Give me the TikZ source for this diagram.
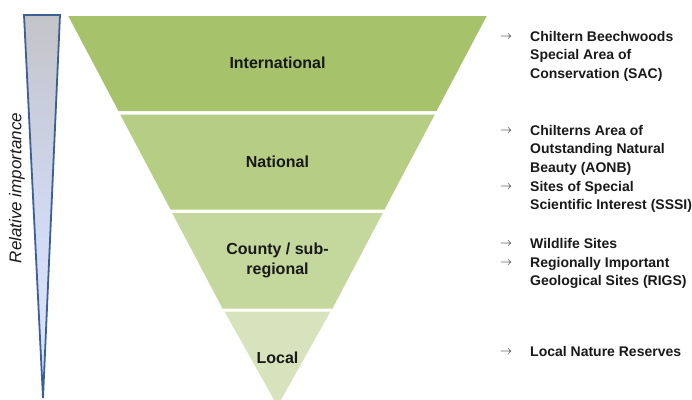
\documentclass[tikz,border=0pt]{standalone}
\usepackage{fontspec}
\setmainfont{Liberation Sans}
\usetikzlibrary{calc}
\definecolor{bandA}{RGB}{166,194,106}
\definecolor{bandB}{RGB}{182,206,132}
\definecolor{bandC}{RGB}{196,215,156}
\definecolor{bandD}{RGB}{214,227,188}
\definecolor{wedgeline}{RGB}{60,96,150}
\definecolor{wedgetop}{RGB}{196,196,200}
\definecolor{wedgemid}{RGB}{208,216,240}
\definecolor{wedgebot}{RGB}{220,232,255}
\definecolor{txt}{RGB}{25,25,25}
\tikzset{
  band/.style={draw=none},
  bandlabel/.style={font=\bfseries\fontsize{16}{20}\selectfont, text=txt, align=center},
  item/.style={font=\bfseries\fontsize{14}{18.5}\selectfont, text=txt, anchor=north west, align=left, inner sep=0pt},
  arrowmark/.style={font=\fontsize{13}{15}\selectfont, text=txt, inner sep=0pt},
}
\begin{document}
\begin{tikzpicture}[x=1pt,y=-1pt]
\useasboundingbox (0,0) rectangle (692,399);
\begin{scope}
\clip (0,0) rectangle (692,399);
% wedge
\shade[top color=wedgetop, bottom color=wedgebot, middle color=wedgemid] (24,15) -- (60,15) -- (43,398) -- cycle;
\draw[wedgeline, line width=1.8pt, line join=miter] (24,15) -- (60,15) -- (43,398) -- cycle;
% bands
\fill[bandA] (68.3,16) -- (486.7,16) -- (436.5,111) -- (118.5,111) -- cycle;
\fill[bandB] (120.2,114.5) -- (434.8,114.5) -- (384.5,209.5) -- (170.5,209.5) -- cycle;
\fill[bandC] (172.2,213) -- (382.8,213) -- (332.5,308.5) -- (222.5,308.5) -- cycle;
\fill[bandD] (224.5,311.5) -- (330.5,311.5) -- (277.5,406) -- cycle;
\end{scope}
\node[bandlabel] (intl) at (277.5,63) {International};
\node[bandlabel] (natl) at (277.5,162) {National};
\node[bandlabel] (cnty) at (277.5,260) {County / sub-\\regional};
\node[bandlabel] (locl) at (277.5,358) {Local};
\node[rotate=90, font=\itshape\fontsize{17}{19}\selectfont, text=txt] (rel) at (17,188) {Relative importance};
% items
\node[arrowmark] (a1) at (506,37) {$\rightarrow$};
\node[item] (t1) at (530,31) {Chiltern Beechwoods\\Special Area of\\Conservation (SAC)};
\node[arrowmark] (a2) at (506,131) {$\rightarrow$};
\node[item] (t2) at (530,125) {Chilterns Area of\\Outstanding Natural\\Beauty (AONB)};
\node[arrowmark] (a3) at (506,187) {$\rightarrow$};
\node[item] (t3) at (530,181) {Sites of Special\\Scientific Interest (SSSI)};
\node[arrowmark] (a4) at (506,244) {$\rightarrow$};
\node[item] (t4) at (530,238) {Wildlife Sites};
\node[arrowmark] (a5) at (506,263) {$\rightarrow$};
\node[item] (t5) at (530,257) {Regionally Important\\Geological Sites (RIGS)};
\node[arrowmark] (a6) at (506,352) {$\rightarrow$};
\node[item] (t6) at (530,346) {Local Nature Reserves};
\end{tikzpicture}
\end{document}
